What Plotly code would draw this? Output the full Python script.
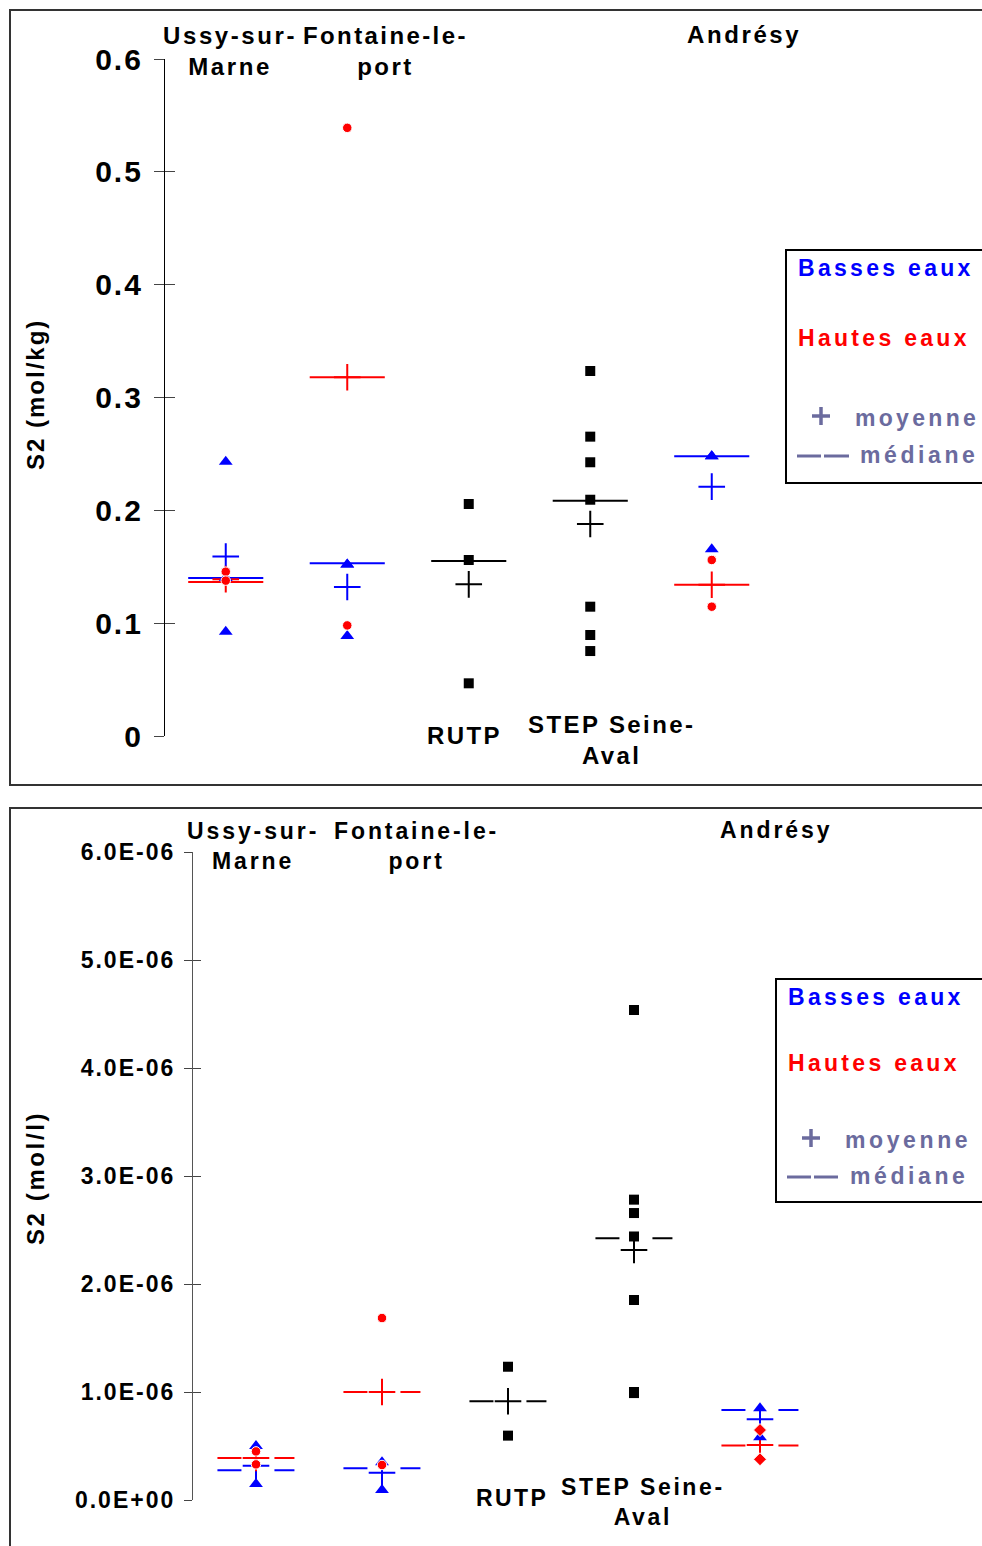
import plotly.graph_objects as go

W, H = 982, 1546

CATEGORIES = ["Ussy-sur-Marne", "Fontaine-le-port", "RUTP", "STEP Seine-Aval", "Andrésy"]

# ---------- Panel 1 : S2 (mol/kg) ----------
KG_TICKS = [0, 0.1, 0.2, 0.3, 0.4, 0.5, 0.6]
KG_TICK_LABELS = ["0", "0.1", "0.2", "0.3", "0.4", "0.5", "0.6"]

KG_BASSES_CAT = ["Ussy-sur-Marne", "Ussy-sur-Marne", "Ussy-sur-Marne",
                 "Fontaine-le-port", "Fontaine-le-port", "Fontaine-le-port",
                 "Andrésy", "Andrésy", "Andrésy"]
KG_BASSES_VAL = [0.243, 0.140, 0.0925, 0.152, 0.152, 0.0886, 0.248, 0.248, 0.1655]
KG_HAUTES_CAT = ["Ussy-sur-Marne", "Ussy-sur-Marne", "Fontaine-le-port", "Fontaine-le-port",
                 "Andrésy", "Andrésy"]
KG_HAUTES_VAL = [0.1456, 0.1377, 0.539, 0.098, 0.156, 0.1146]
KG_SITES_CAT = ["RUTP", "RUTP", "RUTP",
                "STEP Seine-Aval", "STEP Seine-Aval", "STEP Seine-Aval", "STEP Seine-Aval",
                "STEP Seine-Aval", "STEP Seine-Aval", "STEP Seine-Aval"]
KG_SITES_VAL = [0.2056, 0.156, 0.0467, 0.3235, 0.2653, 0.2426, 0.2094, 0.1146, 0.0895, 0.0753]

KG_STAT_BASSES_CAT = ["Ussy-sur-Marne", "Fontaine-le-port", "Andrésy"]
KG_MEAN_BASSES = [0.159, 0.132, 0.221]
KG_MEDIAN_BASSES = [0.140, 0.153, 0.248]
KG_STAT_HAUTES_CAT = ["Ussy-sur-Marne", "Fontaine-le-port", "Andrésy"]
KG_MEAN_HAUTES = [0.139, 0.318, 0.134]
KG_MEDIAN_HAUTES = [0.1365, 0.318, 0.134]
KG_STAT_SITES_CAT = ["RUTP", "STEP Seine-Aval"]
KG_MEAN_SITES = [0.1344, 0.1879]
KG_MEDIAN_SITES = [0.155, 0.2085]

# ---------- Panel 2 : S2 (mol/l) ----------
L_TICKS = [0, 1e-6, 2e-6, 3e-6, 4e-6, 5e-6, 6e-6]
L_TICK_LABELS = ["0.0E+00", "1.0E-06", "2.0E-06", "3.0E-06", "4.0E-06", "5.0E-06", "6.0E-06"]

L_BASSES_CAT = ["Ussy-sur-Marne", "Ussy-sur-Marne", "Fontaine-le-port", "Fontaine-le-port",
                "Andrésy", "Andrésy"]
L_BASSES_VAL = [0.50e-6, 0.148e-6, 0.35e-6, 0.092e-6, 0.85e-6, 0.58e-6]
L_HAUTES_CAT = ["Ussy-sur-Marne", "Ussy-sur-Marne", "Fontaine-le-port", "Fontaine-le-port",
                "Andrésy", "Andrésy"]
L_HAUTES_VAL = [0.45e-6, 0.33e-6, 1.685e-6, 0.324e-6, 0.648e-6, 0.377e-6]
L_SITES_CAT = ["RUTP", "RUTP",
               "STEP Seine-Aval", "STEP Seine-Aval", "STEP Seine-Aval", "STEP Seine-Aval",
               "STEP Seine-Aval", "STEP Seine-Aval", "STEP Seine-Aval"]
L_SITES_VAL = [1.234e-6, 0.596e-6, 4.537e-6, 2.781e-6, 2.657e-6, 2.44e-6, 1.852e-6, 1.0e-6, 0.99e-6]

L_STAT_BASSES_CAT = ["Ussy-sur-Marne", "Fontaine-le-port", "Andrésy"]
L_MEAN_BASSES = [0.318e-6, 0.253e-6, 0.747e-6]
L_MEDIAN_BASSES = [0.275e-6, 0.293e-6, 0.833e-6]
L_STAT_HAUTES_CAT = ["Ussy-sur-Marne", "Fontaine-le-port", "Andrésy"]
L_MEAN_HAUTES = [0.39e-6, 1.0e-6, 0.51e-6]
L_MEDIAN_HAUTES = [0.39e-6, 1.0e-6, 0.505e-6]
L_STAT_SITES_CAT = ["RUTP", "STEP Seine-Aval"]
L_MEAN_SITES = [0.915e-6, 2.315e-6]
L_MEDIAN_SITES = [0.915e-6, 2.423e-6]

BLUE, RED, BLACK, LEG = "#0000FF", "#FF0000", "#000000", "#6B6B9E"
FONT = "Liberation Sans, Arial, sans-serif"


def pos(cat):
    return CATEGORIES.index(cat) + 1


def sp(text, ls):
    return f'<span style="letter-spacing:{ls}px"><b>{text}</b></span>'


def px(x):
    return x / W


def py(y):
    return 1 - y / H


fig = go.Figure()


def add_panel(xa, ya, b_cat, b_val, h_cat, h_val, s_cat, s_val,
              sb_cat, mean_b, med_b, sh_cat, mean_h, med_h, ss_cat, mean_s, med_s,
              half, dash, hautes_symbol):
    # medians
    for cats, meds, col in ((sb_cat, med_b, BLUE), (sh_cat, med_h, RED), (ss_cat, med_s, BLACK)):
        for c, m in zip(cats, meds):
            fig.add_trace(go.Scatter(x=[pos(c) - half, pos(c) + half], y=[m, m], mode="lines",
                                     line=dict(color=col, width=2, dash=dash),
                                     xaxis=xa, yaxis=ya, showlegend=False, hoverinfo="skip"))
    # means
    for cats, means, col in ((sb_cat, mean_b, BLUE), (sh_cat, mean_h, RED), (ss_cat, mean_s, BLACK)):
        fig.add_trace(go.Scatter(x=[pos(c) for c in cats], y=means, mode="markers",
                                 marker=dict(symbol="cross-thin", size=19, opacity=1,
                                             line=dict(color=col, width=2)),
                                 xaxis=xa, yaxis=ya, showlegend=False, cliponaxis=False))
    # points
    fig.add_trace(go.Scatter(x=[pos(c) for c in b_cat], y=b_val, mode="markers",
                             marker=dict(symbol="triangle-up", size=12, color=BLUE, opacity=1),
                             xaxis=xa, yaxis=ya, showlegend=False, cliponaxis=False))
    fig.add_trace(go.Scatter(x=[pos(c) for c in h_cat], y=h_val, mode="markers",
                             marker=dict(symbol=[hautes_symbol(c) for c in h_cat],
                                         size=[10 if hautes_symbol(c) == "diamond" else 9.5 for c in h_cat],
                                         color=RED, opacity=1),
                             xaxis=xa, yaxis=ya, showlegend=False, cliponaxis=False))
    fig.add_trace(go.Scatter(x=[pos(c) for c in s_cat], y=s_val, mode="markers",
                             marker=dict(symbol="square", size=10, color=BLACK, opacity=1),
                             xaxis=xa, yaxis=ya, showlegend=False, cliponaxis=False))


add_panel("x", "y", KG_BASSES_CAT, KG_BASSES_VAL, KG_HAUTES_CAT, KG_HAUTES_VAL,
          KG_SITES_CAT, KG_SITES_VAL,
          KG_STAT_BASSES_CAT, KG_MEAN_BASSES, KG_MEDIAN_BASSES,
          KG_STAT_HAUTES_CAT, KG_MEAN_HAUTES, KG_MEDIAN_HAUTES,
          KG_STAT_SITES_CAT, KG_MEAN_SITES, KG_MEDIAN_SITES,
          half=0.309, dash="solid", hautes_symbol=lambda c: "circle")

add_panel("x2", "y2", L_BASSES_CAT, L_BASSES_VAL, L_HAUTES_CAT, L_HAUTES_VAL,
          L_SITES_CAT, L_SITES_VAL,
          L_STAT_BASSES_CAT, L_MEAN_BASSES, L_MEDIAN_BASSES,
          L_STAT_HAUTES_CAT, L_MEAN_HAUTES, L_MEDIAN_HAUTES,
          L_STAT_SITES_CAT, L_MEAN_SITES, L_MEDIAN_SITES,
          half=0.306, dash="24px,33px,20px,60px",
          hautes_symbol=lambda c: "diamond" if c == "Andrésy" else "circle")

# axes geometry (pixels)
AX1_X, AX1_TOP, AX1_BOT, STEP1 = 165, 59, 736, 121.5
AX2_X, AX2_TOP, AX2_BOT, STEP2 = 193, 852, 1500, 126

common_y = dict(showgrid=False, zeroline=False, showline=True, ticks="outside",
                tickcolor="#444", tickwidth=1, automargin=False)

fig.update_layout(
    width=W, height=H, margin=dict(l=0, r=0, t=0, b=0, pad=0, autoexpand=False),
    paper_bgcolor="white", plot_bgcolor="rgba(0,0,0,0)",
    font=dict(family=FONT, color="black"), showlegend=False,
    xaxis=dict(domain=[px(AX1_X), 1], range=[0.5, 0.5 + (W - AX1_X) / STEP1],
               visible=False, anchor="y", automargin=False),
    yaxis=dict(domain=[py(AX1_BOT), py(AX1_TOP)], range=[0, 0.6], anchor="x",
               tickvals=KG_TICKS, ticktext=[sp(t, 2) for t in KG_TICK_LABELS],
               tickfont=dict(size=30, family=FONT), ticklen=10, ticklabelstandoff=5,
               linecolor="black", linewidth=1.3, **common_y),
    yaxis3=dict(overlaying="y", anchor="x", range=[0, 0.6], tickvals=KG_TICKS,
                showticklabels=False, ticks="inside", ticklen=10, tickcolor="#444",
                showgrid=False, zeroline=False, showline=False, automargin=False),
    xaxis2=dict(domain=[px(AX2_X), 1], range=[0.5, 0.5 + (W - AX2_X) / STEP2],
                visible=False, anchor="y2", automargin=False),
    yaxis2=dict(domain=[py(AX2_BOT), py(AX2_TOP)], range=[0, 6e-6], anchor="x2",
                tickvals=L_TICKS, ticktext=[sp(t, 2) for t in L_TICK_LABELS],
                tickfont=dict(size=23, family=FONT), ticklen=8, ticklabelstandoff=4,
                linecolor="#555", linewidth=1.3, **common_y),
    yaxis4=dict(overlaying="y2", anchor="x2", range=[0, 6e-6], tickvals=L_TICKS,
                showticklabels=False, ticks="inside", ticklen=8, tickcolor="#444",
                showgrid=False, zeroline=False, showline=False, automargin=False),
)
# dummy traces to activate overlay axes
fig.add_trace(go.Scatter(x=[None], y=[None], xaxis="x", yaxis="y3", showlegend=False))
fig.add_trace(go.Scatter(x=[None], y=[None], xaxis="x2", yaxis="y4", showlegend=False))


def pline(x0, y0, x1, y1, color, width):
    return dict(type="line", xref="paper", yref="paper", x0=px(x0), x1=px(x1),
                y0=py(y0), y1=py(y1), line=dict(color=color, width=width))


shapes = [
    dict(type="rect", xref="paper", yref="paper", x0=px(10), x1=px(1100), y0=py(785), y1=py(10),
         line=dict(color="#333", width=2)),
    dict(type="rect", xref="paper", yref="paper", x0=px(10), x1=px(1100), y0=py(1700), y1=py(808),
         line=dict(color="#333", width=2)),
    dict(type="rect", xref="paper", yref="paper", x0=px(786), x1=px(1100), y0=py(483), y1=py(250),
         line=dict(color="black", width=2)),
    dict(type="rect", xref="paper", yref="paper", x0=px(776), x1=px(1100), y0=py(1202), y1=py(979),
         line=dict(color="black", width=2)),
    # legend "+" symbols and median dashes
    pline(812, 416, 830, 416, LEG, 3.5), pline(821, 407, 821, 425, LEG, 3.5),
    pline(797, 456, 821, 456, LEG, 3), pline(824, 456, 849, 456, LEG, 3),
    pline(802, 1138, 820, 1138, LEG, 3.5), pline(811, 1129, 811, 1147, LEG, 3.5),
    pline(787, 1177, 811, 1177, LEG, 3), pline(814, 1177, 838, 1177, LEG, 3),
]
fig.update_layout(shapes=shapes)

ann = []


def label(x, y, text, size, ls, color="black", xanchor="center", angle=0):
    ann.append(dict(xref="paper", yref="paper", x=px(x), y=py(y),
                    text="<br>".join(sp(t, ls) for t in text.split("<br>")),
                    showarrow=False, xanchor=xanchor, yanchor="middle", textangle=angle,
                    font=dict(family=FONT, size=size, color=color)))


# panel 1 labels
label(230, 51, "Ussy-sur-<br>Marne", 24, 2.6)
label(385, 51, "Fontaine-le-<br>port", 24, 2.4)
label(744, 35, "Andrésy", 24, 2.6)
label(464, 735, "RUTP", 24, 2.4)
label(611, 740, "STEP Seine-<br>Aval", 24, 2.4)
label(35, 395, "S2 (mol/kg)", 24, 2, angle=-90)
# legend 1
label(796, 268, "Basses eaux", 23, 3.3, BLUE, "left")
label(796, 338, "Hautes eaux", 23, 3.3, RED, "left")
label(853, 418, "moyenne", 23, 3.3, LEG, "left")
label(858, 455, "médiane", 23, 3.6, LEG, "left")

# panel 2 labels
label(253, 846, "Ussy-sur-<br>Marne", 23, 2.9)
label(416, 846, "Fontaine-le-<br>port", 23, 2.9)
label(776, 830, "Andrésy", 23, 2.9)
label(512, 1498, "RUTP", 23, 2.4)
label(643, 1502, "STEP Seine-<br>Aval", 23, 2.6)
label(35, 1178, "S2 (mol/l)", 24, 2.6, angle=-90)
# legend 2
label(786, 997, "Basses eaux", 23, 3.3, BLUE, "left")
label(786, 1063, "Hautes eaux", 23, 3.3, RED, "left")
label(843, 1140, "moyenne", 23, 3.6, LEG, "left")
label(848, 1176, "médiane", 23, 3.6, LEG, "left")

fig.update_layout(annotations=ann)

fig.write_html("out.html", config={"displayModeBar": False},
               post_script="document.body.style.margin='0';document.body.style.overflow='hidden';")
